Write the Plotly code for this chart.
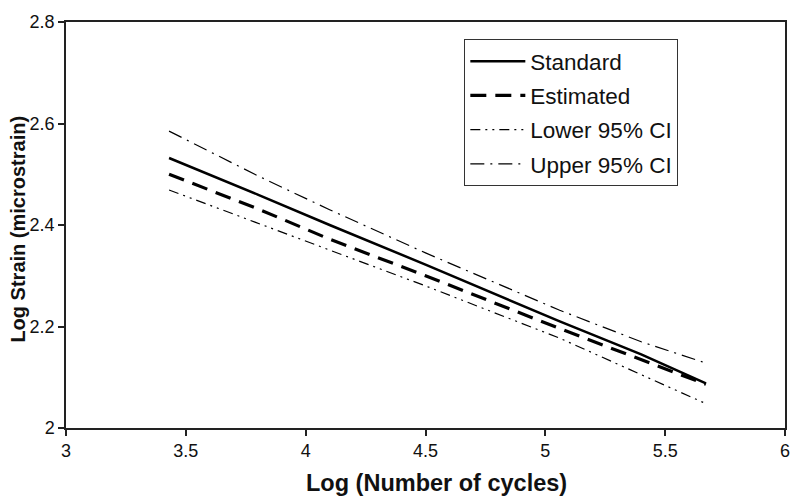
import plotly.graph_objects as go

# Log number of cycles where each curve was read
log_cycles = [3.43, 3.8, 4.1, 4.5, 5.06, 5.4, 5.67]

# Log strain (microstrain) for each curve
standard = [2.532, 2.46, 2.40, 2.322, 2.21, 2.145, 2.088]
estimated = [2.50, 2.432, 2.372, 2.30, 2.196, 2.134, 2.086]
lower_ci = [2.469, 2.404, 2.351, 2.28, 2.177, 2.105, 2.048]
upper_ci = [2.585, 2.497, 2.43, 2.345, 2.232, 2.17, 2.128]

x_ticks = [3, 3.5, 4, 4.5, 5, 5.5, 6]
x_tick_text = ["3", "3.5", "4", "4.5", "5", "5.5", "6"]
y_ticks = [2, 2.2, 2.4, 2.6, 2.8]
y_tick_text = ["2", "2.2", "2.4", "2.6", "2.8"]

font_name = "Liberation Sans, Arial, sans-serif"

fig = go.Figure()
fig.add_trace(go.Scatter(x=log_cycles, y=standard, mode="lines", name="Standard",
                         legendgroup="a",
                         line=dict(color="black", width=2.5)))
fig.add_trace(go.Scatter(x=log_cycles, y=estimated, mode="lines", name="Estimated",
                         legendgroup="b",
                         line=dict(color="black", width=3.2, dash="16px,9px")))
fig.add_trace(go.Scatter(x=log_cycles, y=lower_ci, mode="lines", name="Lower 95% CI",
                         legendgroup="c",
                         line=dict(color="black", width=1.2, dash="10px,5px,2px,5px,2px,5px")))
fig.add_trace(go.Scatter(x=log_cycles, y=upper_ci, mode="lines", name="Upper 95% CI",
                         legendgroup="d",
                         line=dict(color="black", width=1.2, dash="14px,6px,2px,6px")))

# the page body adds an 8px margin, so the figure is a little smaller than the window
fig.update_layout(
    width=792, height=491,
    margin=dict(l=58, r=15, t=14, b=71),
    paper_bgcolor="white", plot_bgcolor="white",
    font=dict(family=font_name, color="#111", size=18),
    showlegend=True,
    legend=dict(x=0.554, y=0.958, xanchor="left", yanchor="top",
                bordercolor="#333", borderwidth=1, bgcolor="white",
                font=dict(size=22.5, family=font_name, color="#111"),
                traceorder="grouped", tracegroupgap=2,
                itemwidth=55),
)
fig.update_xaxes(
    range=[3, 6], tickvals=x_ticks, ticktext=x_tick_text,
    showgrid=False, zeroline=False, automargin=False,
    showline=True, linecolor="#222", linewidth=1.5, mirror=True,
    ticks="outside", ticklen=6, tickcolor="#222", tickwidth=1.5,
)
fig.update_yaxes(
    range=[2, 2.8], tickvals=y_ticks, ticktext=y_tick_text,
    showgrid=False, zeroline=False, automargin=False,
    showline=True, linecolor="#222", linewidth=1.5, mirror=True,
    ticks="outside", ticklen=6, tickcolor="#222", tickwidth=1.5,
)

# axis titles as annotations so they sit where the original has them
fig.add_annotation(text="<b>Log (Number of cycles)</b>", xref="paper", yref="paper",
                   x=0.515, y=-0.135, xanchor="center", yanchor="middle",
                   showarrow=False, font=dict(size=23.5, family=font_name, color="#111"))
fig.add_annotation(text="<b>Log Strain (microstrain)</b>", xref="paper", yref="paper",
                   x=-0.066, y=0.49, xanchor="center", yanchor="middle", textangle=-90,
                   showarrow=False, font=dict(size=20, family=font_name, color="#111"))

fig.write_html("out.html")
